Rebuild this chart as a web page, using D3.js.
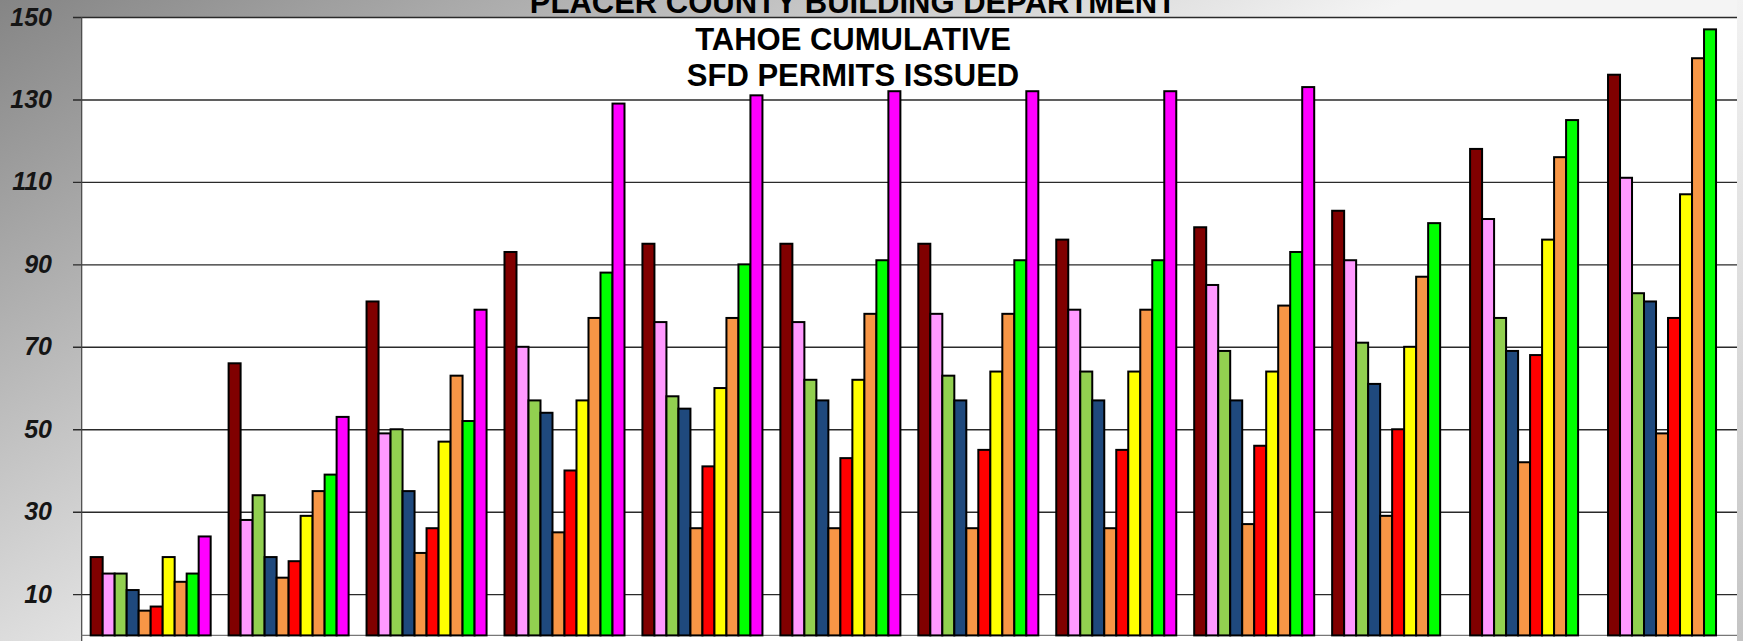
<!DOCTYPE html>
<html>
<head>
<meta charset="utf-8">
<script src="https://cdn.jsdelivr.net/npm/d3@7"></script>
<style>
  html, body { margin: 0; padding: 0; background: #fff; }
  svg { display: block; }
</style>
</head>
<body>
<svg id="chart" width="1743" height="641"></svg>
<script>
// ---- data ----
const categories = ["Jan","Feb","Mar","Apr","May","Jun","Jul","Aug","Sep","Oct","Nov","Dec"];
const seriesNames = ["Series 1","Series 2","Series 3","Series 4","Series 5","Series 6","Series 7","Series 8","Series 9","Series 10"];
const series1  = [19, 66, 81, 93, 95, 95, 95, 96, 99, 103, 118, 136];
const series2  = [15, 28, 49, 70, 76, 76, 78, 79, 85, 91, 101, 111];
const series3  = [15, 34, 50, 57, 58, 62, 63, 64, 69, 71, 77, 83];
const series4  = [11, 19, 35, 54, 55, 57, 57, 57, 57, 61, 69, 81];
const series5  = [6, 14, 20, 25, 26, 26, 26, 26, 27, 29, 42, 49];
const series6  = [7, 18, 26, 40, 41, 43, 45, 45, 46, 50, 68, 77];
const series7  = [19, 29, 47, 57, 60, 62, 64, 64, 64, 70, 96, 107];
const series8  = [13, 35, 63, 77, 77, 78, 78, 79, 80, 87, 116, 140];
const series9  = [15, 39, 52, 88, 90, 91, 91, 91, 93, 100, 125, 147];
const series10 = [24, 53, 79, 129, 131, 132, 132, 132, 133, null, null, null];
const seriesColors = ["#800000","#FF99FF","#92D050","#1F497D","#F79646","#FF0000","#FFFF00","#F79646","#00FF00","#FF00FF"];
const yTicks = [10, 30, 50, 70, 90, 110, 130, 150];
const titleLines = ["PLACER COUNTY BUILDING DEPARTMENT", "TAHOE CUMULATIVE", "SFD PERMITS ISSUED"];

const allSeries = [series1,series2,series3,series4,series5,series6,series7,series8,series9,series10];

// ---- layout ----
const W = 1743, H = 641;
const plot = { left: 81.7, right: 1737, top: 17, bottom: 635.4 };

const svg = d3.select("#chart");
const defs = svg.append("defs");
const bg = defs.append("linearGradient").attr("id","bg")
  .attr("gradientUnits","userSpaceOnUse")
  .attr("x1",0).attr("y1",0).attr("x2",356).attr("y2",612);
bg.append("stop").attr("offset","0%").attr("stop-color","#858585");
bg.append("stop").attr("offset","100%").attr("stop-color","#f4f4f4");

const edge = defs.append("linearGradient").attr("id","edge")
  .attr("x1",0).attr("y1",0).attr("x2",0).attr("y2",1);
edge.append("stop").attr("offset","0%").attr("stop-color","#f2f2f2");
edge.append("stop").attr("offset","100%").attr("stop-color","#c4c4c4");

svg.append("rect").attr("width",W).attr("height",H).attr("fill","url(#bg)");
svg.append("rect").attr("x",plot.right).attr("y",0).attr("width",W-plot.right).attr("height",H).attr("fill","url(#edge)");

// plot area
svg.append("rect")
  .attr("x",plot.left).attr("y",plot.top)
  .attr("width",plot.right-plot.left).attr("height",H-plot.top)
  .attr("fill","#ffffff");

// scales
const y = d3.scaleLinear().domain([0,150]).range([plot.bottom, plot.top]);
const x0 = d3.scaleBand().domain(categories).range([plot.left, plot.right])
  .paddingInner(0.13).paddingOuter(0.065);
const x1 = d3.scaleBand().domain(seriesNames).range([0, x0.bandwidth()]).padding(0);

// gridlines + y axis
const yAxis = d3.axisLeft(y).tickValues(yTicks).tickSize(plot.right - plot.left + 8.7).tickPadding(21);
const gAxis = svg.append("g").attr("transform",`translate(${plot.right},0)`).call(yAxis);
gAxis.select(".domain").remove();
gAxis.selectAll(".tick line").attr("stroke","#2a2a2a").attr("stroke-width",1.4);
gAxis.selectAll(".tick text")
  .attr("x", -(plot.right - 52))
  .attr("text-anchor","end")
  .attr("fill","#151515")
  .style("font-family","'Liberation Sans', Arial, sans-serif")
  .style("font-weight","bold").style("font-style","italic")
  .style("font-size","25px");

// left axis line & bottom axis
svg.append("line").attr("x1",plot.left).attr("x2",plot.left)
  .attr("y1",plot.top).attr("y2",H).attr("stroke","#444").attr("stroke-width",1.2);
svg.append("line").attr("x1",plot.left).attr("x2",plot.right)
  .attr("y1",plot.bottom).attr("y2",plot.bottom).attr("stroke","#777").attr("stroke-width",1.2);

// bars
const groups = svg.append("g").selectAll("g").data(categories).join("g")
  .attr("transform", d => `translate(${x0(d)},0)`);
groups.selectAll("rect")
  .data((c, ci) => seriesNames.map((s, si) => ({ s, si, v: allSeries[si][ci] })).filter(d => d.v != null))
  .join("rect")
  .attr("x", d => x1(d.s))
  .attr("y", d => y(d.v))
  .attr("width", x1.bandwidth())
  .attr("height", d => y(0) - y(d.v))
  .attr("fill", d => seriesColors[d.si])
  .attr("stroke", "#000")
  .attr("stroke-width", 2);

// title
const cx = 853;
svg.append("g").selectAll("text").data(titleLines).join("text")
  .attr("x", cx)
  .attr("y", (d,i) => 13 + i*36.5)
  .attr("text-anchor","middle")
  .attr("fill","#000")
  .style("font-family","'Liberation Sans', Arial, sans-serif")
  .style("font-weight","bold")
  .style("font-size","31px")
  .text(d => d);
</script>
</body>
</html>
